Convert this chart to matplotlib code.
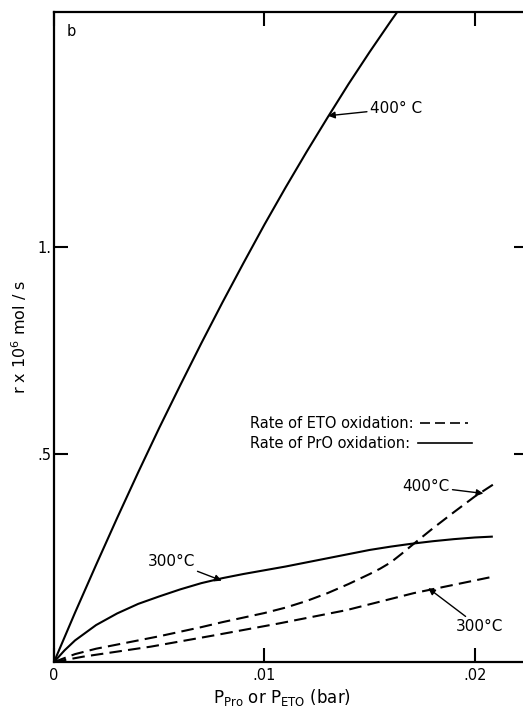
import matplotlib.pyplot as plt

plt.rcParams['font.family'] = ['DejaVu Sans']

# rate of PrO oxidation (solid lines)
p_pro_400 = [0, 0.001, 0.002, 0.003, 0.004, 0.005, 0.006, 0.007, 0.008, 0.009,
             0.010, 0.011, 0.012, 0.013, 0.014, 0.015, 0.016, 0.0166]
r_pro_400 = [0, 0.119, 0.234, 0.347, 0.457, 0.564, 0.667, 0.768, 0.866, 0.961,
             1.054, 1.143, 1.229, 1.312, 1.393, 1.470, 1.544, 1.587]
p_pro_300 = [0, 0.0005, 0.001, 0.002, 0.003, 0.004, 0.005, 0.006, 0.007, 0.008, 0.009,
             0.010, 0.011, 0.012, 0.013, 0.014, 0.015, 0.016, 0.017, 0.018, 0.019, 0.020, 0.0208]
r_pro_300 = [0, 0.028, 0.052, 0.089, 0.117, 0.140, 0.158, 0.175, 0.190, 0.202, 0.212,
             0.221, 0.230, 0.240, 0.250, 0.260, 0.270, 0.278, 0.285, 0.291, 0.296, 0.300, 0.302]

# rate of ETO oxidation (dashed lines)
p_eto_400 = [0, 0.001, 0.002, 0.003, 0.004, 0.005, 0.006, 0.007, 0.008, 0.009, 0.010, 0.011,
             0.012, 0.013, 0.014, 0.015, 0.0155, 0.016, 0.0165, 0.017, 0.018, 0.019, 0.020, 0.021]
r_eto_400 = [0, 0.019, 0.032, 0.042, 0.052, 0.062, 0.073, 0.084, 0.096, 0.107, 0.118, 0.131,
             0.147, 0.166, 0.188, 0.212, 0.225, 0.240, 0.260, 0.281, 0.322, 0.361, 0.399, 0.432]
p_eto_300 = [0, 0.0014, 0.0046, 0.0077, 0.0107, 0.0139, 0.0171, 0.0209]
r_eto_300 = [0, 0.013, 0.037, 0.065, 0.093, 0.125, 0.166, 0.206]

x_ticks = [0, 0.01, 0.02]
x_labels = ['0', '.01', '.02']
y_ticks = [0.5, 1.0]
y_labels = ['.5', '1.']

fig = plt.figure(figsize=(5.23, 7.10), dpi=100)
ax = fig.add_axes([54 / 523, 48 / 710, 474 / 523, 650 / 710])

lw = 1.5
dash = (6, 3)
ax.plot(p_pro_400, r_pro_400, color='black', lw=lw)
ax.plot(p_pro_300, r_pro_300, color='black', lw=lw)
ax.plot(p_eto_400, r_eto_400, color='black', lw=lw, dashes=dash)
ax.plot(p_eto_300, r_eto_300, color='black', lw=lw, dashes=dash)

ax.set_xlim(0, 0.02252)
ax.set_ylim(0, 1.566)

ax.set_xticks(x_ticks)
ax.set_xticklabels(x_labels)
ax.set_yticks(y_ticks)
ax.set_yticklabels(y_labels)
ax.tick_params(direction='in', length=10, width=1.5, labelsize=10.5,
               top=True, right=True, pad=4)
ax.tick_params(axis='y', pad=2)
for s in ax.spines.values():
    s.set_linewidth(1.6)

ax.set_ylabel(r'r x 10$^{6}$ mol / s', fontsize=11.5, labelpad=6)
ax.set_xlabel(r'P$_{\mathrm{Pro}}$ or P$_{\mathrm{ETO}}$ (bar)', fontsize=12, labelpad=4)
ax.xaxis.set_label_coords(0.48, -0.038)

ax.text(0.0006, 1.52, 'b', fontsize=10.5, ha='left', va='center')

arrow = dict(arrowstyle='-|>', color='black', lw=1, mutation_scale=10, shrinkA=0, shrinkB=0)
fs = 11
ax.annotate('400° C', xy=(0.01302, 1.316), xytext=(0.0150, 1.333),
            fontsize=fs, va='center', ha='left', arrowprops=arrow)
ax.annotate('300°C', xy=(0.00797, 0.196), xytext=(0.00556, 0.243),
            fontsize=fs, va='center', ha='center', arrowprops=arrow)
ax.annotate('400°C', xy=(0.0204, 0.406), xytext=(0.01880, 0.423),
            fontsize=fs, va='center', ha='right', arrowprops=arrow)
ax.annotate('300°C', xy=(0.01778, 0.178), xytext=(0.0202, 0.085),
            fontsize=fs, va='center', ha='center', arrowprops=arrow)

# legend written as text with short line samples
ax.text(0.00932, 0.575, 'Rate of ETO oxidation:', fontsize=10.5, ha='left', va='center')
ax.text(0.00932, 0.527, 'Rate of PrO oxidation:', fontsize=10.5, ha='left', va='center')
ax.plot([0.01740, 0.01967], [0.575, 0.575], color='black', lw=1.2, dashes=(6, 3))
ax.plot([0.01730, 0.01985], [0.527, 0.527], color='black', lw=1.2)

fig.savefig('out.png', dpi=100)
